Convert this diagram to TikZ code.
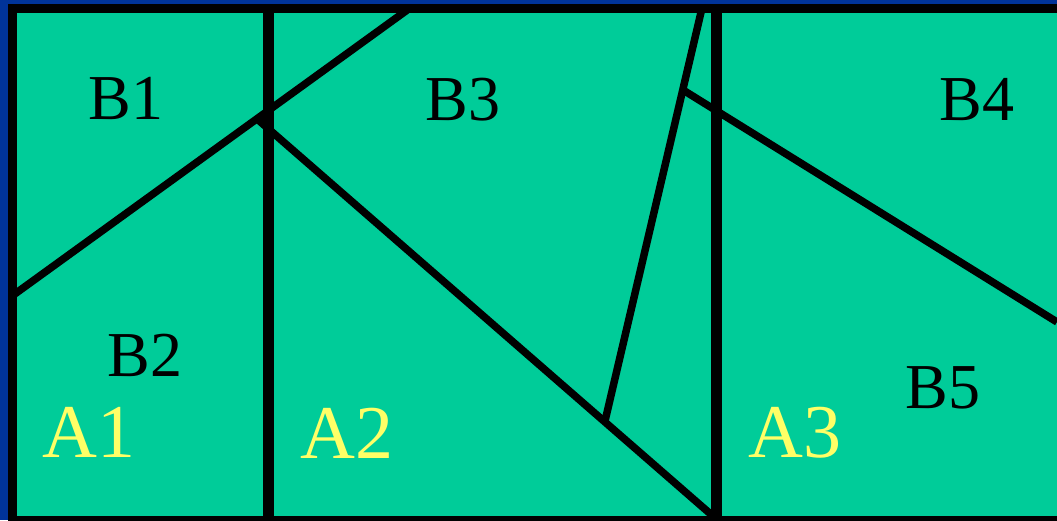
\documentclass[tikz,border=0pt]{standalone}
\usepackage{fontspec}
\setmainfont{Liberation Serif}
\usepackage{tikz}
\usetikzlibrary{calc,positioning}
\definecolor{fieldgreen}{RGB}{0,204,153}
\definecolor{backblue}{RGB}{0,51,153}
\definecolor{areayellow}{RGB}{255,255,102}
\tikzset{
  border/.style={draw=black, line width=9pt, fill=fieldgreen},
  divider/.style={draw=black, line width=11pt},
  cut/.style={draw=black, line width=7.5pt},
  blabel/.style={font=\fontsize{64}{64}\selectfont, text=black, inner sep=0pt},
  alabel/.style={font=\fontsize{76}{76}\selectfont, text=areayellow, inner sep=0pt}
}
\begin{document}
\begin{tikzpicture}[x=1pt,y=-1pt]
  \fill[backblue] (0,0) rectangle (1057,520);
  \useasboundingbox (0,0) rectangle (1057,520);
  \draw[border] (12,8) rectangle (1075,520.5);
  % corner points of the cuts
  \coordinate (d1s) at (12,296);
  \coordinate (d1e) at (410,8);
  \coordinate (d2s) at (256,118);
  \coordinate (d2e) at (714,517);
  \coordinate (d3s) at (605,421);
  \coordinate (d3e) at (702,8);
  \coordinate (d4s) at (683,90);
  \coordinate (d4e) at (1057,322);
  \draw[cut] (d1s) -- (d1e);
  \draw[cut] (d2s) -- (d2e);
  \draw[cut] (d3s) -- (d3e);
  \draw[cut] (d4s) -- (d4e);
  \draw[divider] (268,8) -- (268,520);
  \draw[divider] (716,8) -- (716,520);
  \node[blabel] (b1) at (126,98) {B1};
  \node[blabel] (b2) at (145,355) {B2};
  \node[blabel] (b3) at (463,100) {B3};
  \node[blabel] (b4) at (977,100) {B4};
  \node[blabel] (b5) at (943,388) {B5};
  \node[alabel] (a1) at (89,432) {A1};
  \node[alabel] (a2) at (347,433) {A2};
  \node[alabel] (a3) at (795,433) {A3};
\end{tikzpicture}
\end{document}
